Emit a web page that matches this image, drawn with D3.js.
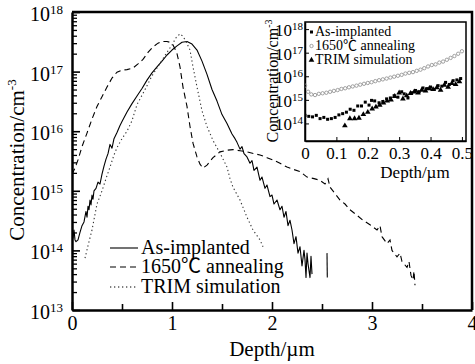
<!DOCTYPE html>
<html><head><meta charset="utf-8">
<script src="https://cdn.jsdelivr.net/npm/d3@7"></script>
<style>
body{margin:0;background:#fff}
svg{display:block}
text{font-family:"Liberation Serif","Times New Roman","Noto Sans CJK SC",serif;fill:#000}
</style>
</head><body>
<svg id="c" width="475" height="364"></svg>
<script>
// ---------- DATA (depth in µm, concentration in cm^-3) ----------
const asImplanted = [[0,2.0e14],[0.01,1.6e14],[0.02,2.2e14],[0.03,1.5e14],[0.04,1.4e14],[0.06,1.5e14],[0.08,2.0e14],[0.10,2.6e14],[0.12,3.0e14],[0.14,4.5e14],[0.15,3.6e14],[0.16,5.5e14],[0.17,4.8e14],[0.18,7.0e14],[0.19,5.8e14],[0.20,8.5e14],[0.21,7.2e14],[0.22,1.0e15],[0.24,1.1e15],[0.26,1.4e15],[0.28,1.3e15],[0.30,1.9e15],[0.32,2.6e15],[0.34,3.4e15],[0.36,4.2e15],[0.38,6.0e15],[0.40,5.2e15],[0.42,7.5e15],[0.45,9.5e15],[0.48,1.25e16],[0.50,1.45e16],[0.55,2.1e16],[0.60,2.9e16],[0.65,3.9e16],[0.70,5.2e16],[0.75,7.2e16],[0.80,9.5e16],[0.85,1.2e17],[0.90,1.5e17],[0.95,1.9e17],[1.00,2.3e17],[1.05,2.7e17],[1.10,3.1e17],[1.15,3.2e17],[1.20,2.9e17],[1.25,2.3e17],[1.30,1.5e17],[1.35,9.0e16],[1.40,5.0e16],[1.45,3.2e16],[1.50,1.9e16],[1.55,1.35e16],[1.60,9.0e15],[1.63,7.5e15],[1.65,6.5e15],[1.68,5.0e15],[1.70,5.5e15],[1.72,4.2e15],[1.75,3.7e15],[1.78,2.9e15],[1.80,3.2e15],[1.82,2.2e15],[1.85,2.5e15],[1.88,1.5e15],[1.90,1.7e15],[1.93,1.1e15],[1.95,1.25e15],[1.98,8.0e14],[2.00,8.5e14],[2.02,6.0e14],[2.05,7.0e14],[2.08,4.8e14],[2.10,5.5e14],[2.12,3.6e14],[2.14,4.5e14],[2.16,2.6e14],[2.18,3.2e14],[2.20,2.2e14],[2.22,1.3e14],[2.24,1.7e14],[2.26,9.0e13],[2.28,1.15e14],[2.30,5.5e13],[2.32,1.0e14],[2.33,7.0e13],[2.34,3.5e13],[2.35,9.0e13],[2.36,6.0e13],[2.38,3.5e13],[2.39,8.0e13],[2.40,4.0e13]];
const asImplantedTail = [[2.55,9.0e13],[2.553,3.5e13]];
const annealed = [[0,1.9e15],[0.03,2.4e15],[0.06,3.3e15],[0.10,5.5e15],[0.15,9.3e15],[0.20,1.6e16],[0.25,2.6e16],[0.30,3.8e16],[0.35,5.5e16],[0.40,7.8e16],[0.45,9.8e16],[0.50,1.06e17],[0.55,1.08e17],[0.61,1.15e17],[0.66,1.35e17],[0.71,1.6e17],[0.76,2.1e17],[0.81,2.6e17],[0.86,3.0e17],[0.90,3.2e17],[0.95,3.2e17],[0.98,3.1e17],[1.01,2.8e17],[1.03,2.4e17],[1.05,2.0e17],[1.08,1.2e17],[1.11,5.5e16],[1.15,2.6e16],[1.18,1.2e16],[1.21,6.3e15],[1.25,3.7e15],[1.28,2.8e15],[1.31,2.4e15],[1.35,2.7e15],[1.41,3.6e15],[1.48,4.5e15],[1.55,4.8e15],[1.61,4.9e15],[1.68,4.7e15],[1.75,4.5e15],[1.82,4.2e15],[1.88,4.0e15],[1.95,3.6e15],[2.01,3.3e15],[2.08,2.9e15],[2.15,2.5e15],[2.21,2.3e15],[2.28,2.1e15],[2.35,1.7e15],[2.42,1.6e15],[2.48,1.5e15],[2.53,1.3e15],[2.56,1.6e15],[2.58,1.15e15],[2.63,9.0e14],[2.68,7.0e14],[2.73,6.0e14],[2.78,4.8e14],[2.84,4.0e14],[2.91,3.2e14],[2.98,2.7e14],[3.05,2.2e14],[3.08,2.6e14],[3.10,1.7e14],[3.15,1.3e14],[3.18,1.5e14],[3.20,1.0e14],[3.25,7.8e13],[3.28,9.0e13],[3.30,6.5e13],[3.35,5.2e13],[3.37,6.5e13],[3.39,3.8e13],[3.41,3.2e13],[3.42,4.5e13],[3.43,2.6e13]];
const trim = [[0.13,7.4e13],[0.16,1.2e14],[0.20,2.2e14],[0.25,6.0e14],[0.30,1.0e15],[0.34,1.6e15],[0.38,2.5e15],[0.42,4.0e15],[0.45,5.3e15],[0.50,7.5e15],[0.55,1.0e16],[0.60,1.5e16],[0.65,2.8e16],[0.70,4.0e16],[0.75,5.8e16],[0.80,8.5e16],[0.85,1.15e17],[0.90,1.55e17],[0.95,2.1e17],[1.00,2.8e17],[1.04,3.7e17],[1.08,4.3e17],[1.11,3.9e17],[1.14,3.2e17],[1.18,2.3e17],[1.21,1.2e17],[1.25,5.5e16],[1.30,2.2e16],[1.35,1.2e16],[1.41,7.0e15],[1.48,4.3e15],[1.55,2.5e15],[1.58,1.6e15],[1.61,1.15e15],[1.68,7.0e14],[1.75,3.6e14],[1.81,2.2e14],[1.88,1.5e14],[1.91,1.15e14]];

// inset series
const insetAsImplanted = [[0.000,2.2e14],[0.012,2.0e14],[0.024,1.9e14],[0.036,2.2e14],[0.048,1.6e14],[0.060,1.8e14],[0.072,1.5e14],[0.084,1.6e14],[0.096,1.8e14],[0.108,2.3e14],[0.120,2.6e14],[0.132,3.0e14],[0.144,4.0e14],[0.156,3.6e14],[0.168,5.5e14],[0.180,5.5e14],[0.192,8.0e14],[0.204,6.0e14],[0.212,9.5e14],[0.222,9.0e14],[0.236,7.5e14],[0.248,8.5e14],[0.260,1.1e15],[0.272,1.2e15],[0.284,1.5e15],[0.296,1.3e15],[0.308,2.2e15],[0.316,1.8e15],[0.328,1.2e15],[0.340,2.0e15],[0.352,2.5e15],[0.364,2.2e15],[0.376,3.2e15],[0.388,3.0e15],[0.400,3.5e15],[0.412,2.8e15],[0.424,4.0e15],[0.436,3.8e15],[0.448,5.5e15],[0.460,4.5e15],[0.472,6.5e15],[0.484,7.0e15],[0.496,8.0e15]];
const insetAnnealed = [[0.000,4.0e15],[0.010,2.2e15],[0.020,1.7e15],[0.032,1.6e15],[0.044,1.8e15],[0.056,1.9e15],[0.068,2.0e15],[0.080,2.2e15],[0.092,2.4e15],[0.104,2.6e15],[0.116,2.9e15],[0.128,3.1e15],[0.140,3.4e15],[0.152,3.7e15],[0.164,4.0e15],[0.176,4.4e15],[0.188,4.8e15],[0.200,5.2e15],[0.212,5.6e15],[0.224,6.2e15],[0.236,6.8e15],[0.248,7.4e15],[0.260,8.0e15],[0.272,8.8e15],[0.284,9.6e15],[0.296,1.05e16],[0.308,1.15e16],[0.320,1.3e16],[0.332,1.4e16],[0.344,1.5e16],[0.356,1.7e16],[0.368,1.9e16],[0.380,2.2e16],[0.392,2.6e16],[0.404,3.0e16],[0.416,3.2e16],[0.428,3.8e16],[0.440,4.2e16],[0.452,5.0e16],[0.464,6.0e16],[0.476,7.2e16],[0.488,9.0e16],[0.500,1.15e17]];
const insetTrim = [[0.127,8.0e13],[0.143,1.6e14],[0.158,1.6e14],[0.172,1.7e14],[0.186,2.4e14],[0.200,3.0e14],[0.214,4.2e14],[0.226,5.0e14],[0.238,6.0e14],[0.250,7.5e14],[0.262,9.0e14],[0.274,1.0e15],[0.286,1.4e15],[0.300,2.0e15],[0.312,1.1e15],[0.324,1.5e15],[0.336,1.9e15],[0.348,2.2e15],[0.360,2.0e15],[0.372,2.6e15],[0.384,2.4e15],[0.396,3.0e15],[0.408,2.8e15],[0.420,3.3e15],[0.432,2.6e15],[0.444,4.2e15],[0.456,3.5e15],[0.468,5.0e15],[0.480,4.5e15],[0.492,6.0e15]];

// ticks and labels
const xTicks = [0,1,2,3,4];
const xMinorTicks = [0.5,1.5,2.5,3.5];
const yExponents = [13,14,15,16,17,18];
const insetXTicks = [0,0.1,0.2,0.3,0.4,0.5];
const insetYExponents = [14,15,16,17,18];
const legendLabels = ["As-implanted","1650\u2103 annealing","TRIM simulation"];

// ---------- CHART ----------
const svg = d3.select("#c");
const L=72,R=472,T=12,B=310;
const x = d3.scaleLinear().domain([0,4]).range([L,R]);
const y = d3.scaleLog().domain([1e13,1e18]).range([B,T]);

svg.append("clipPath").attr("id","cm").append("rect")
  .attr("x",L).attr("y",T).attr("width",R-L).attr("height",B-T);
const line = d3.line().x(d=>x(d[0])).y(d=>y(d[1]));
const plot = svg.append("g").attr("clip-path","url(#cm)");
plot.append("path").datum(asImplanted).attr("d",line)
  .attr("fill","none").attr("stroke","#000").attr("stroke-width",1.1).attr("stroke-linejoin","round");
plot.append("path").datum(asImplantedTail).attr("d",line)
  .attr("fill","none").attr("stroke","#000").attr("stroke-width",1.1);
plot.append("path").datum(annealed).attr("d",line)
  .attr("fill","none").attr("stroke","#000").attr("stroke-width",1.1).attr("stroke-dasharray","6,4");
plot.append("path").datum(trim).attr("d",line)
  .attr("fill","none").attr("stroke","#333").attr("stroke-width",1.1).attr("stroke-dasharray","1.3,2.7");

// axes
const xAx = svg.append("g").attr("transform",`translate(0,${B})`)
  .call(d3.axisBottom(x).tickValues(xTicks).tickSizeInner(-8).tickSizeOuter(0).tickPadding(6).tickFormat(d3.format("d")));
svg.append("g").attr("transform",`translate(0,${B})`)
  .call(d3.axisBottom(x).tickValues(xMinorTicks).tickSizeInner(-6).tickSizeOuter(0).tickFormat(""))
  .call(g=>g.select(".domain").remove());
xAx.selectAll("text").attr("font-size",20).attr("font-family","Liberation Serif");
xAx.select(".domain").attr("stroke-width",2.5);
svg.selectAll(".tick line").attr("stroke-width",1.6);

const yMajor = yExponents.map(e=>Math.pow(10,e));
const yAx = svg.append("g").attr("transform",`translate(${L},0)`)
  .call(d3.axisLeft(y).tickValues(yMajor).tickSizeInner(-8).tickSizeOuter(0).tickFormat(""));
yAx.select(".domain").attr("stroke-width",2.5);
yAx.selectAll(".tick line").attr("stroke-width",1.6);
const yMinor = y.ticks().filter(v=>Math.abs(Math.log10(v)-Math.round(Math.log10(v)))>1e-6);
svg.append("g").attr("transform",`translate(${L},0)`)
  .call(d3.axisLeft(y).tickValues(yMinor).tickSizeInner(-5).tickSizeOuter(0).tickFormat(""))
  .call(g=>g.select(".domain").remove())
  .selectAll("line").attr("stroke-width",1.3);
yExponents.forEach(e=>{
  const t = svg.append("text").attr("x",63).attr("y",y(Math.pow(10,e))+9)
    .attr("text-anchor","end").attr("font-size",20);
  t.append("tspan").text("10");
  t.append("tspan").attr("font-size",13).attr("dy",-7).text(e);
});
// top and right frame
svg.append("path").attr("d",`M${L},${T}H${R}V${B}`).attr("fill","none").attr("stroke","#000").attr("stroke-width",2.5);

// axis titles
svg.append("text").attr("x",272).attr("y",356).attr("text-anchor","middle").attr("font-size",21).text("Depth/\u00b5m");
const yt = svg.append("text").attr("transform","translate(24,160) rotate(-90)").attr("text-anchor","middle").attr("font-size",21);
yt.append("tspan").text("Concentration/cm");
yt.append("tspan").attr("font-size",13).attr("dy",-8).text("-3");

// legend
const legY = [248,267,287];
const legDash = [null,"6,4","1.3,2.7"];
legendLabels.forEach((lab,i)=>{
  svg.append("line").attr("x1",110).attr("x2",138).attr("y1",legY[i]).attr("y2",legY[i])
    .attr("stroke","#000").attr("stroke-width",1.1).attr("stroke-dasharray",legDash[i]);
  svg.append("text").attr("x",141).attr("y",legY[i]+6).attr("font-size",20).text(lab);
});

// ---------- INSET ----------
const iL=305,iR=466,iT=22,iB=141;
const xi = d3.scaleLinear().domain([0,0.513]).range([iL,iR]);
const yi = d3.scaleLog().domain([1.8e13,2e18]).range([iB,iT]);
svg.append("rect").attr("x",iL).attr("y",iT).attr("width",iR-iL).attr("height",iB-iT)
  .attr("fill","#fff").attr("stroke","#000").attr("stroke-width",1.5);
const ixAx = svg.append("g").attr("transform",`translate(0,${iB})`)
  .call(d3.axisBottom(xi).tickValues(insetXTicks).tickSizeInner(-4).tickSizeOuter(0).tickPadding(6)
    .tickFormat(d=>d===0?"0":d3.format(".1f")(d)));
ixAx.selectAll("text").attr("font-size",17).attr("font-family","Liberation Serif");
ixAx.select(".domain").attr("stroke-width",1.5);
const iyAx = svg.append("g").attr("transform",`translate(${iL},0)`)
  .call(d3.axisLeft(yi).tickValues(insetYExponents.map(e=>Math.pow(10,e))).tickSizeInner(-4).tickSizeOuter(0).tickFormat(""));
iyAx.select(".domain").attr("stroke-width",1.5);
insetYExponents.forEach(e=>{
  const t = svg.append("text").attr("x",303).attr("y",yi(Math.pow(10,e))+7)
    .attr("text-anchor","end").attr("font-size",17);
  t.append("tspan").text("10");
  t.append("tspan").attr("font-size",11).attr("dy",-6).text(e);
});
svg.append("clipPath").attr("id","ci").append("rect")
  .attr("x",iL).attr("y",iT).attr("width",iR-iL).attr("height",iB-iT);
const ip = svg.append("g").attr("clip-path","url(#ci)");
ip.selectAll("circle.an").data(insetAnnealed).join("circle")
  .attr("cx",d=>xi(d[0])).attr("cy",d=>yi(d[1])).attr("r",1.7)
  .attr("fill","none").attr("stroke","#8a8a8a").attr("stroke-width",0.8);
ip.selectAll("rect.as").data(insetAsImplanted).join("rect")
  .attr("x",d=>xi(d[0])-1.5).attr("y",d=>yi(d[1])-1.5).attr("width",3).attr("height",3).attr("fill","#000");
const tri = d3.symbol().type(d3.symbolTriangle).size(14);
ip.selectAll("path.tr").data(insetTrim).join("path")
  .attr("transform",d=>`translate(${xi(d[0])},${yi(d[1])})`).attr("d",tri).attr("fill","#000");

// inset legend
const iLegY=[36,50,64];
svg.append("rect").attr("x",310).attr("y",iLegY[0]-5.5).attr("width",3).attr("height",3).attr("fill","#000");
svg.append("circle").attr("cx",311.5).attr("cy",iLegY[1]-4).attr("r",1.7).attr("fill","none").attr("stroke","#8a8a8a").attr("stroke-width",0.8);
svg.append("path").attr("transform",`translate(311.5,${iLegY[2]-4})`).attr("d",tri).attr("fill","#000");
legendLabels.forEach((lab,i)=>{
  svg.append("text").attr("x",315).attr("y",iLegY[i]).attr("font-size",14).text(lab);
});
svg.append("text").attr("x",415).attr("y",178).attr("text-anchor","middle").attr("font-size",17).text("Depth/\u00b5m");
const iyt = svg.append("text").attr("transform","translate(278,81) rotate(-90)").attr("text-anchor","middle").attr("font-size",16);
iyt.append("tspan").text("Concentration/cm");
iyt.append("tspan").attr("font-size",10).attr("dy",-6).text("-3");
</script>
</body></html>
